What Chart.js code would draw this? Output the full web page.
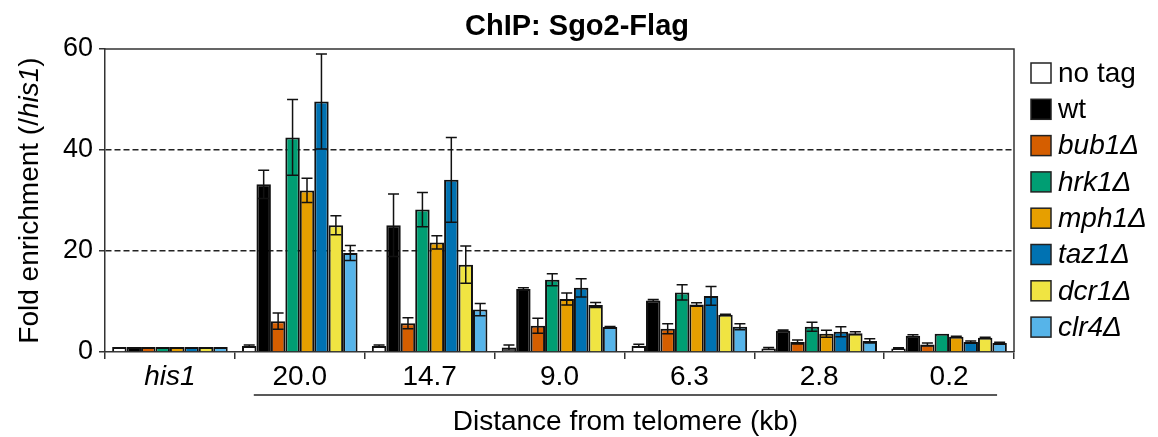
<!DOCTYPE html>
<html lang="en">
<head>
  <meta charset="UTF-8" />
  <title>ChIP: Sgo2-Flag</title>
  <script src="https://cdn.jsdelivr.net/npm/chart.js"></script>
  <style>
    html, body { margin: 0; padding: 0; background: #fff; }
    #wrap { width: 1158px; height: 437px; }
  </style>
</head>
<body>
  <div id="wrap"><canvas id="chart" width="1158" height="437"></canvas></div>

  <script>
    const FONT = '"Liberation Sans", Arial, sans-serif';

    // categories (distance from telomere, kb)
    const categories = ["his1", "20.0", "14.7", "9.0", "6.3", "2.8", "0.2"];

    // fold enrichment per strain, and error (+/-)
    const noTag    = [1.0, 1.2, 1.2, 0.9, 1.25, 0.7, 0.7];
    const noTagErr = [0, 0.2, 0.2, 0.5, 0.3, 0.2, 0.15];
    const wt       = [1.0, 33.2, 25.1, 12.5, 10.2, 4.2, 3.2];
    const wtErr    = [0, 2.8, 6.2, 0.2, 0.2, 0.15, 0.2];
    const bub1     = [1.0, 6.1, 5.7, 5.2, 4.6, 2.0, 1.5];
    const bub1Err  = [0, 1.6, 1.1, 1.5, 1.0, 0.4, 0.3];
    const hrk1     = [1.0, 42.5, 28.2, 14.3, 11.8, 5.0, 3.6];
    const hrk1Err  = [0, 7.5, 3.4, 1.2, 1.5, 0.9, 0];
    const mph1     = [1.0, 32.0, 21.7, 10.5, 9.4, 3.6, 3.0];
    const mph1Err  = [0, 2.4, 1.3, 1.2, 0.35, 0.7, 0.1];
    const taz1     = [1.0, 49.6, 34.1, 12.7, 11.1, 4.0, 2.0];
    const taz1Err  = [0, 9.4, 8.4, 1.8, 1.85, 1.0, 0.2];
    const dcr1     = [1.0, 25.1, 17.3, 9.3, 7.4, 3.7, 2.8];
    const dcr1Err  = [0, 1.9, 3.7, 0.5, 0.1, 0.3, 0.1];
    const clr4     = [1.0, 19.6, 8.4, 4.95, 5.0, 2.2, 1.8];
    const clr4Err  = [0, 1.5, 1.2, 0.1, 0.6, 0.4, 0.15];

    const yTicks = [0, 20, 40, 60];

    const series = [
      { label: "no tag", italic: false, color: "#ffffff", data: noTag, err: noTagErr },
      { label: "wt",     italic: false, color: "#000000", data: wt,    err: wtErr },
      { label: "bub1Δ",  italic: true,  color: "#d55e00", data: bub1,  err: bub1Err },
      { label: "hrk1Δ",  italic: true,  color: "#009e73", data: hrk1,  err: hrk1Err },
      { label: "mph1Δ",  italic: true,  color: "#e69f00", data: mph1,  err: mph1Err },
      { label: "taz1Δ",  italic: true,  color: "#0072b2", data: taz1,  err: taz1Err },
      { label: "dcr1Δ",  italic: true,  color: "#f0e442", data: dcr1,  err: dcr1Err },
      { label: "clr4Δ",  italic: true,  color: "#56b4e9", data: clr4,  err: clr4Err }
    ];

    // error bars, box border, titles, legend
    const extras = {
      id: "extras",
      afterDatasetsDraw(chart) {
        const ctx = chart.ctx, y = chart.scales.y;
        ctx.save();
        ctx.strokeStyle = "#111";
        ctx.lineWidth = 1.5;
        chart.data.datasets.forEach((ds, di) => {
          const meta = chart.getDatasetMeta(di);
          meta.data.forEach((bar, i) => {
            const e = ds.err[i];
            if (!e) return;
            const top = y.getPixelForValue(ds.data[i] + e);
            const bot = y.getPixelForValue(ds.data[i] - e);
            ctx.beginPath();
            ctx.moveTo(bar.x, top); ctx.lineTo(bar.x, bot);
            ctx.moveTo(bar.x - 5.5, top); ctx.lineTo(bar.x + 5.5, top);
            ctx.moveTo(bar.x - 5.5, bot); ctx.lineTo(bar.x + 5.5, bot);
            ctx.stroke();
          });
        });
        ctx.restore();
      },
      afterDraw(chart) {
        const ctx = chart.ctx, a = chart.chartArea, x = chart.scales.x;
        ctx.save();
        // top + right border
        ctx.strokeStyle = "#333";
        ctx.lineWidth = 1.5;
        ctx.beginPath();
        ctx.moveTo(a.left, a.top); ctx.lineTo(a.right, a.top); ctx.lineTo(a.right, a.bottom);
        ctx.stroke();

        // title
        ctx.fillStyle = "#000";
        ctx.font = "bold 29px " + FONT;
        ctx.textAlign = "center";
        ctx.textBaseline = "alphabetic";
        ctx.fillText("ChIP: Sgo2-Flag", 577, 35);

        // underline below distances + x title
        const x1 = x.getPixelForValue(1) - 46, x2 = x.getPixelForValue(6) + 48;
        ctx.strokeStyle = "#222";
        ctx.lineWidth = 1.5;
        ctx.beginPath();
        ctx.moveTo(x1, 395); ctx.lineTo(x2, 395);
        ctx.stroke();
        ctx.font = "28px " + FONT;
        ctx.fillText("Distance from telomere (kb)", (x1 + x2) / 2, 430);

        // y title with italic part
        ctx.translate(38, (a.top + a.bottom) / 2);
        ctx.rotate(-Math.PI / 2);
        const parts = [["Fold enrichment (/", false], ["his1", true], [")", false]];
        let total = 0;
        parts.forEach(p => { ctx.font = (p[1] ? "italic " : "") + "28px " + FONT; total += ctx.measureText(p[0]).width; });
        let cx = -total / 2;
        ctx.textAlign = "left";
        parts.forEach(p => {
          ctx.font = (p[1] ? "italic " : "") + "28px " + FONT;
          ctx.fillText(p[0], cx, 0);
          cx += ctx.measureText(p[0]).width;
        });
        ctx.restore();

        // legend
        ctx.save();
        ctx.textBaseline = "middle";
        ctx.textAlign = "left";
        series.forEach((s, i) => {
          const cy = 73 + i * 36.3;
          ctx.fillStyle = s.color;
          ctx.fillRect(1031, cy - 10, 20, 20);
          ctx.strokeStyle = "#222";
          ctx.lineWidth = 1.5;
          ctx.strokeRect(1031, cy - 10, 20, 20);
          ctx.fillStyle = "#000";
          ctx.font = (s.italic ? "italic " : "") + "28px " + FONT;
          ctx.fillText(s.label, 1058, cy + 1);
        });
        ctx.restore();
      }
    };

    new Chart(document.getElementById("chart"), {
      type: "bar",
      data: {
        labels: categories,
        datasets: series.map(s => ({
          label: s.label,
          data: s.data,
          err: s.err,
          backgroundColor: s.color,
          borderColor: "#111",
          borderWidth: 2,
          categoryPercentage: 0.89,
          barPercentage: 1.0
        }))
      },
      options: {
        responsive: false,
        animation: false,
        layout: { padding: { left: 0, top: 49, right: 144, bottom: 0 } },
        plugins: { legend: { display: false }, tooltip: { enabled: false } },
        scales: {
          x: {
            afterFit: s => { s.height = 85; },
            border: { display: true, color: "#333", width: 1.5 },
            grid: { display: true, offset: true, drawOnChartArea: false, drawTicks: true, tickLength: 7, color: "#333", lineWidth: 1.5 },
            ticks: {
              color: "#000",
              padding: 1,
              font: ctx => ({ family: FONT, size: 28, style: ctx.index === 0 ? "italic" : "normal" })
            }
          },
          y: {
            min: 0, max: 60,
            afterFit: s => { s.width = 105; },
            afterBuildTicks: s => { s.ticks = yTicks.map(v => ({ value: v })); },
            border: { display: true, color: "#333", width: 1.5, dash: [6, 3] },
            grid: {
              color: c => (c.tick.value === 20 || c.tick.value === 40) ? "#222" : "rgba(0,0,0,0)",
              tickColor: "#333",
              tickLength: 6,
              tickBorderDash: [1, 0],
              lineWidth: 1.6
            },
            ticks: { color: "#000", padding: 6, font: { family: FONT, size: 27 } }
          }
        }
      },
      plugins: [extras]
    });
  </script>
</body>
</html>
